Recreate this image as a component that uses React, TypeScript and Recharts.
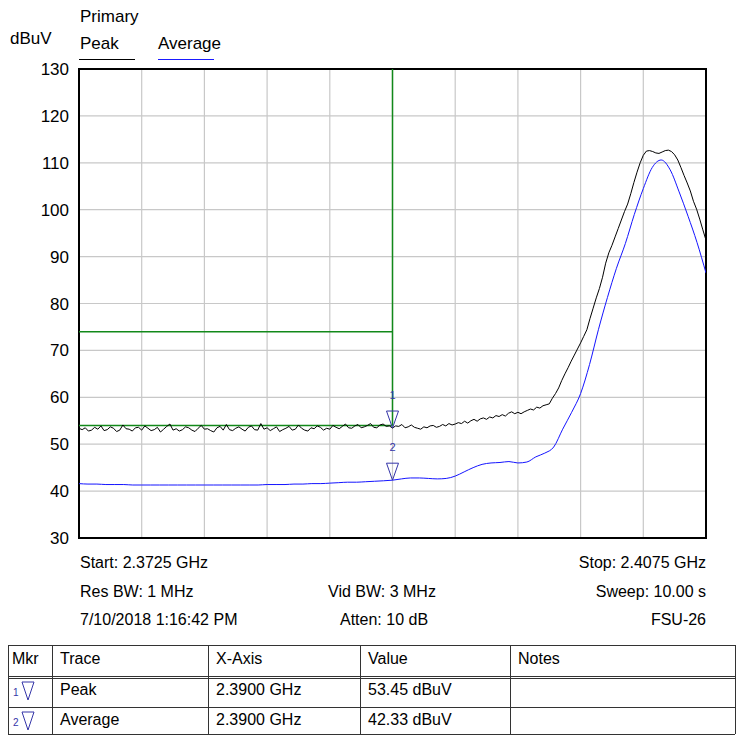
import {
  CartesianGrid,
  Line,
  LineChart,
  ReferenceArea,
  ReferenceDot,
  ReferenceLine,
  XAxis,
  YAxis,
} from "recharts";

const FONT = "'Liberation Sans', Arial, sans-serif";

// sweep span in MHz
const START_MHZ = 2372.5;
const STOP_MHZ = 2407.5;
const freqTicks = [2372.5, 2376, 2379.5, 2383, 2386.5, 2390, 2393.5, 2397, 2400.5, 2404, 2407.5];
const levelTicks = [30, 40, 50, 60, 70, 80, 90, 100, 110, 120, 130];

// peak trace, 201 sweep points (dBuV)
const peakValues = [
  53.4, 53.1, 53.5, 52.8, 53.0, 53.6, 53.2, 53.9, 52.9, 53.1, 53.7, 53.4, 52.7, 53.0, 54.1, 53.3, 53.2, 52.8, 53.5, 53.6,
  53.0, 53.9, 53.4, 52.9, 53.1, 53.6, 52.6, 53.2, 53.8, 54.3, 53.0, 53.3, 52.8, 53.1, 53.7, 53.5, 53.0, 52.7, 53.4, 54.0,
  53.2, 53.3, 52.9, 52.6, 53.5, 53.8, 53.0, 54.2, 53.1, 52.9, 53.4, 53.7, 53.2, 52.8, 53.6, 53.9, 53.1, 53.0, 54.4, 53.2,
  53.5, 52.9, 53.3, 53.7, 52.7, 53.1, 53.4, 53.8, 53.0, 53.2, 54.1, 53.4, 53.0, 52.8, 53.5, 53.3, 53.9, 53.6, 53.0, 53.4,
  53.2, 54.0, 53.6, 53.3, 53.8, 54.3, 53.5, 53.4, 53.9, 54.2, 53.5, 53.7, 54.0, 54.4, 53.6, 53.5, 54.1, 54.3, 53.8, 53.9,
  53.45, 53.9, 53.8, 54.2, 53.5, 53.7, 54.1, 53.6, 53.4, 53.2, 53.7, 53.5, 53.9, 54.0, 53.6, 53.8, 54.2, 53.9, 54.4, 54.1,
  54.3, 54.6, 54.4, 54.9, 54.5, 55.0, 55.3, 54.9, 55.4, 55.6, 55.3, 55.8, 55.6, 56.1, 55.9, 56.3, 56.0, 56.6, 56.9, 56.5,
  56.8, 56.5, 56.9, 57.2, 57.5, 57.3, 57.9, 57.7, 58.2, 58.4,
  58.6, 59.8, 60.8, 62.0, 63.6, 65.0, 66.3, 67.7, 69.0, 70.3,
  71.6, 73.0, 74.4, 76.8, 79.0, 81.2, 83.2, 85.6, 88.6, 90.8,
  92.4, 94.2, 96.0, 97.8, 99.6, 101.2, 103.4, 105.8, 108.0, 110.0,
  111.6, 112.5, 112.6, 112.4, 112.1, 112.0, 112.3, 112.6, 112.7, 112.4,
  111.7, 110.6, 109.0, 107.3, 105.7, 104.0, 101.8, 100.1, 98.0, 95.7,
  93.5,
];

// average trace, 71 sweep points (dBuV)
const averageValues = [
  41.6, 41.5, 41.5, 41.4, 41.4, 41.4, 41.3, 41.3, 41.3, 41.3,
  41.3, 41.3, 41.3, 41.3, 41.3, 41.3, 41.3, 41.3, 41.3, 41.3,
  41.3, 41.4, 41.4, 41.4, 41.5, 41.5, 41.6, 41.6, 41.7, 41.8,
  41.9, 41.9, 42.0, 42.1, 42.2, 42.33, 42.6, 42.8, 42.8, 42.7,
  42.6, 42.7, 43.2, 44.1, 45.0, 45.7, 46.0, 46.1, 46.3, 46.0,
  46.2, 47.3, 48.1, 49.4, 53.2, 56.8, 60.8, 67.0, 74.5, 81.3,
  87.5, 92.8, 99.0, 104.5, 109.0, 110.6, 108.5, 103.8, 98.6, 93.0,
  86.5,
];

// limit lines
const LIMIT_EDGE_MHZ = 2390;
const LIMIT_PEAK = 74;
const LIMIT_AVG = 54;

const markers = [
  { id: 1, trace: "Peak", freq: 2390, value: 53.45 },
  { id: 2, trace: "Average", freq: 2390, value: 42.33 },
];

const toSeries = (values: number[]) =>
  values.map((v, i) => ({
    f: START_MHZ + (i * (STOP_MHZ - START_MHZ)) / (values.length - 1),
    v,
  }));

const peakData = toSeries(peakValues);
const averageData = toSeries(averageValues);

const MARKER_COLOR = "#3535a8";

function MarkerShape(props: any) {
  const { cx, cy, id } = props;
  if (cx == null || cy == null) return null;
  return (
    <g>
      <polygon
        points={`${cx - 6},${cy - 17} ${cx + 6},${cy - 17} ${cx},${cy}`}
        fill="none"
        stroke={MARKER_COLOR}
        strokeWidth={1}
      />
      <text
        x={cx}
        y={cy - 29}
        textAnchor="middle"
        fontSize={11}
        fontFamily={FONT}
        fill={MARKER_COLOR}
      >
        {id}
      </text>
    </g>
  );
}

const txt = (extra: React.CSSProperties): React.CSSProperties => ({
  position: "absolute",
  fontFamily: FONT,
  fontSize: 16,
  color: "#000",
  whiteSpace: "nowrap",
  lineHeight: "18px",
  ...extra,
});

const colLeft = [8, 52, 208, 360, 510, 735];
const rowTop = [645, 676, 707, 734];
const headers = ["Mkr", "Trace", "X-Axis", "Value", "Notes"];

export default function App() {
  return (
    <div
      style={{
        position: "fixed",
        left: 0,
        top: 0,
        width: 740,
        height: 736,
        background: "#fff",
        overflow: "hidden",
      }}
    >
      <div style={txt({ left: 80, top: 8, fontSize: 17 })}>Primary</div>
      <div style={txt({ left: 10, top: 30, fontSize: 17 })}>dBuV</div>
      <div style={txt({ left: 80, top: 35, fontSize: 17 })}>Peak</div>
      <div style={{ position: "absolute", left: 79, top: 59, width: 56, height: 1, background: "#000" }} />
      <div style={txt({ left: 158, top: 35, fontSize: 17 })}>Average</div>
      <div style={{ position: "absolute", left: 158, top: 59, width: 56, height: 1, background: "#1a1aff" }} />

      <div style={{ position: "absolute", left: 0, top: 0 }}>
        <LineChart width={740} height={560} margin={{ top: 69, right: 34, left: 0, bottom: 22 }}>
          <CartesianGrid stroke="#c8c8c8" strokeWidth={1.2} />
          <XAxis
            type="number"
            dataKey="f"
            domain={[START_MHZ, STOP_MHZ]}
            ticks={freqTicks}
            allowDataOverflow
            hide
          />
          <YAxis
            type="number"
            domain={[30, 130]}
            ticks={levelTicks}
            width={79}
            tickSize={0}
            tickMargin={10}
            axisLine={false}
            tick={{ fontSize: 17, fill: "#000", fontFamily: FONT }}
            interval={0}
          />
          <ReferenceLine
            segment={[
              { x: START_MHZ, y: LIMIT_PEAK },
              { x: LIMIT_EDGE_MHZ, y: LIMIT_PEAK },
            ]}
            stroke="#12891a"
            strokeWidth={1.5}
          />
          <ReferenceLine
            segment={[
              { x: START_MHZ, y: LIMIT_AVG },
              { x: LIMIT_EDGE_MHZ, y: LIMIT_AVG },
            ]}
            stroke="#12891a"
            strokeWidth={1.5}
          />
          <ReferenceLine
            segment={[
              { x: LIMIT_EDGE_MHZ, y: LIMIT_AVG },
              { x: LIMIT_EDGE_MHZ, y: 130 },
            ]}
            stroke="#12891a"
            strokeWidth={1.5}
          />
          <Line
            data={averageData}
            dataKey="v"
            type="monotone"
            stroke="#1414ff"
            strokeWidth={1}
            dot={false}
            isAnimationActive={false}
          />
          <Line
            data={peakData}
            dataKey="v"
            type="linear"
            stroke="#000"
            strokeWidth={1}
            dot={false}
            isAnimationActive={false}
          />
          {markers.map((m) => (
            <ReferenceDot
              key={m.id}
              x={m.freq}
              y={m.value}
              r={0}
              shape={(p: any) => <MarkerShape {...p} id={m.id} />}
            />
          ))}
          <ReferenceArea
            x1={START_MHZ}
            x2={STOP_MHZ}
            y1={30}
            y2={130}
            fill="none"
            stroke="#000"
            strokeWidth={2}
            fillOpacity={0}
          />
        </LineChart>
      </div>

      <div style={txt({ left: 80, top: 554 })}>Start: 2.3725 GHz</div>
      <div style={txt({ right: 34, top: 554 })}>Stop: 2.4075 GHz</div>
      <div style={txt({ left: 80, top: 583 })}>Res BW: 1 MHz</div>
      <div style={txt({ left: 328, top: 583 })}>Vid BW: 3 MHz</div>
      <div style={txt({ right: 34, top: 583 })}>Sweep: 10.00 s</div>
      <div style={txt({ left: 80, top: 611 })}>7/10/2018 1:16:42 PM</div>
      <div style={txt({ left: 340, top: 611 })}>Atten: 10 dB</div>
      <div style={txt({ right: 34, top: 611 })}>FSU-26</div>

      {/* marker table */}
      {rowTop.map((y, i) => (
        <div
          key={"h" + i}
          style={{
            position: "absolute",
            left: colLeft[0],
            top: y,
            width: colLeft[5] - colLeft[0],
            height: i === 1 ? 3 : 1,
            borderTop: "1px solid #333",
            borderBottom: i === 1 ? "1px solid #333" : "none",
            boxSizing: "border-box",
          }}
        />
      ))}
      {colLeft.map((x, i) => (
        <div
          key={"v" + i}
          style={{
            position: "absolute",
            left: x,
            top: rowTop[0],
            width: 1,
            height: rowTop[3] - rowTop[0],
            background: "#333",
          }}
        />
      ))}
      {headers.map((h, i) => (
        <div key={h} style={txt({ left: colLeft[i] + (i === 0 ? 4 : 8), top: 650 })}>
          {h}
        </div>
      ))}
      {markers.map((m, r) => {
        const top = r === 0 ? 681 : 711;
        return (
          <div key={"r" + m.id}>
            <div style={txt({ left: 13, top: top + 3, fontSize: 10, color: MARKER_COLOR })}>{m.id}</div>
            <svg style={{ position: "absolute", left: 21, top: top - 1 }} width={14} height={22}>
              <polygon points="1,2 13,2 7,20" fill="none" stroke={MARKER_COLOR} strokeWidth={1} />
            </svg>
            <div style={txt({ left: colLeft[1] + 8, top })}>{m.trace}</div>
            <div style={txt({ left: colLeft[2] + 8, top })}>{(m.freq / 1000).toFixed(4)} GHz</div>
            <div style={txt({ left: colLeft[3] + 8, top })}>{m.value.toFixed(2)} dBuV</div>
          </div>
        );
      })}
    </div>
  );
}
